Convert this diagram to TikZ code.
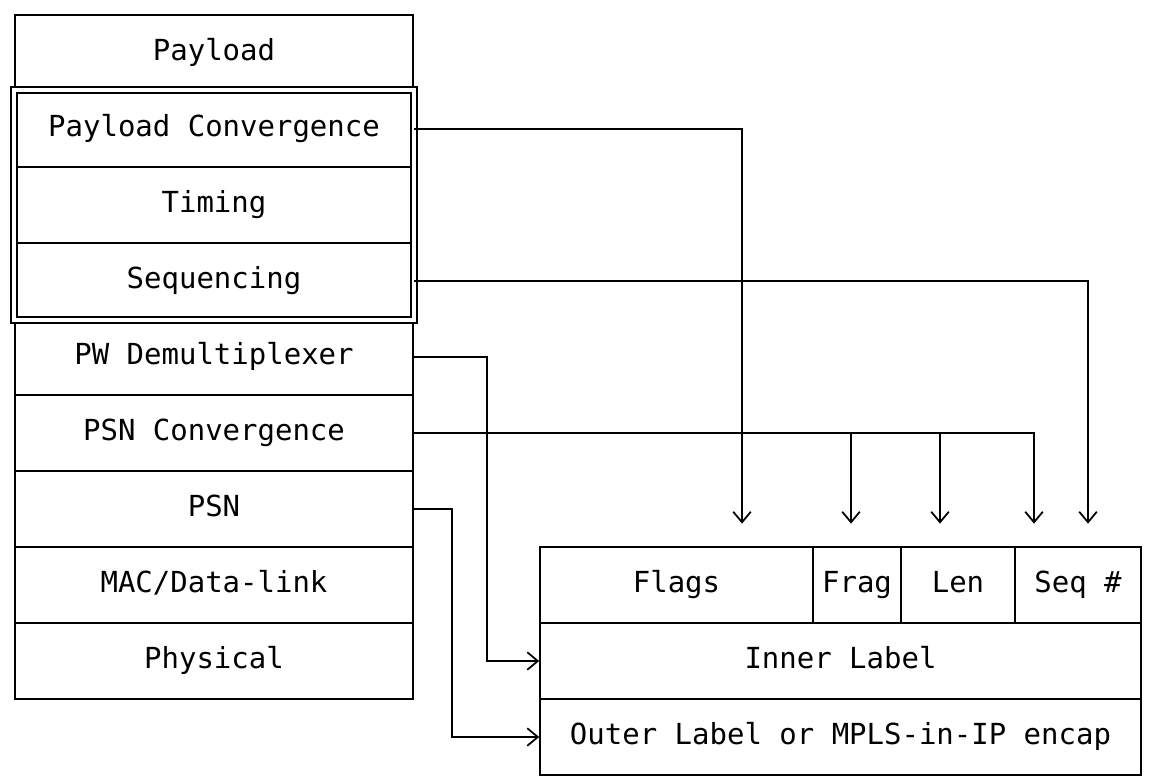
\documentclass[tikz,border=0pt]{standalone}
\usepackage{fontspec}
\setmainfont{DejaVu Sans Mono}
\usetikzlibrary{arrows.meta}
\begin{document}
\begin{tikzpicture}[x=0.02cm, y=-0.02cm, font=\fontsize{16.5}{18}\selectfont]
    \tikzstyle{layer}=[draw, line width=1pt, minimum width=7.96cm, minimum height=1.52cm, inner sep=1pt, text height=0.9em, text depth=0.1em]
    \tikzstyle{field}=[draw, line width=1pt, minimum height=1.52cm, inner sep=1pt, text height=0.9em, text depth=0.1em]
    \tikzstyle{wire}=[line width=1pt, -{Straight Barb[length=6pt,width=10pt]}]
    \tikzstyle{tap}=[wire, shorten >=0.45cm]

    \useasboundingbox (0,0) rectangle (1151,780);

    \node[layer] (payload) at (214,53) {Payload};
    \node[layer] (pconv) at (214,129) {Payload Convergence};
    \node[layer] (timing) at (214,205) {Timing};
    \node[layer] (seqn) at (214,281) {Sequencing};
    \node[layer] (demux) at (214,357) {PW Demultiplexer};
    \node[layer] (psnconv) at (214,433) {PSN Convergence};
    \node[layer] (psn) at (214,509) {PSN};
    \node[layer] (mac) at (214,585) {MAC/Data-link};
    \node[layer] (phys) at (214,661) {Physical};
    \draw[line width=1pt, double, double distance=2.5pt] (pconv.north west) rectangle (seqn.south east);

    \node[field, minimum width=5.46cm] (flags) at (676.5,585) {Flags};
    \node[field, minimum width=1.76cm] (frag) at (857,585) {Frag};
    \node[field, minimum width=2.28cm] (len) at (958,585) {Len};
    \node[field, minimum width=2.52cm] (seq) at (1078,585) {Seq \#};
    \node[field, minimum width=12.02cm] (inner) at (840.5,661) {Inner Label};
    \node[field, minimum width=12.02cm] (outer) at (840.5,737) {Outer Label or MPLS-in-IP encap};

    \coordinate (pc) at (742,129);
    \coordinate (sq) at (1088,281);
    \coordinate (dm) at (487,357);
    \coordinate (fr) at (851,433);
    \coordinate (ln) at (940,433);
    \coordinate (sn) at (1034,433);
    \coordinate (ps) at (452,509);

    \draw[tap] (pconv.east) -- (pc) -- (pc |- flags.north);
    \draw[tap] (seqn.east) -- (sq) -- (sq |- seq.north);
    \draw[wire] (demux.east) -- (dm) -- (dm |- inner.west) -- (inner.west);
    \draw[tap] (psnconv.east) -- (sn) -- (sn |- seq.north);
    \draw[tap] (fr) -- (fr |- frag.north);
    \draw[tap] (ln) -- (ln |- len.north);
    \draw[wire] (psn.east) -- (ps) -- (ps |- outer.west) -- (outer.west);
  \end{tikzpicture}
\end{document}
